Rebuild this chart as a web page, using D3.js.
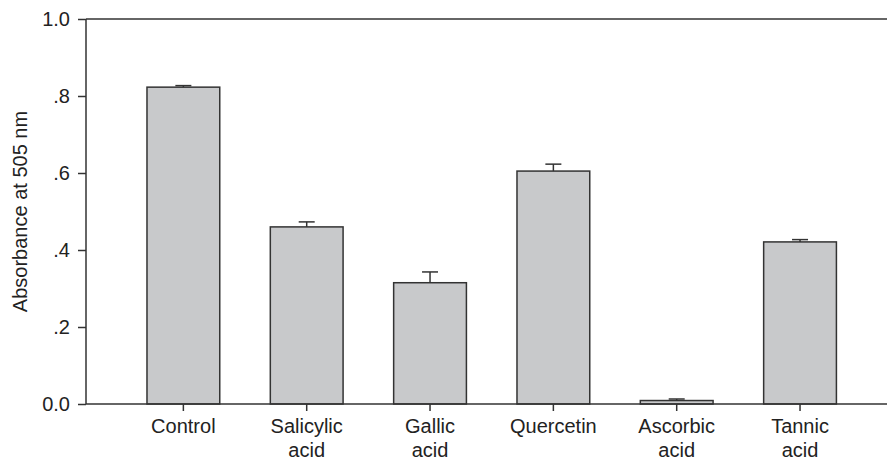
<!DOCTYPE html>
<html>
<head>
<meta charset="utf-8">
<script src="https://cdn.jsdelivr.net/npm/d3@7"></script>
<style>
  html, body { margin: 0; padding: 0; background: #fff; }
  svg { display: block; font-family: "Liberation Sans", Arial, Helvetica, sans-serif; }
</style>
</head>
<body>
<svg id="chart" width="887" height="461"></svg>
<script>
// Absorbance at 505 nm for each treatment, with upper standard error
const categories = [["Control"], ["Salicylic", "acid"], ["Gallic", "acid"], ["Quercetin"], ["Ascorbic", "acid"], ["Tannic", "acid"]];
const values = [0.823, 0.460, 0.315, 0.605, 0.009, 0.421];
const errors = [0.004, 0.013, 0.028, 0.018, 0.004, 0.006];
const yTicks = [0, 0.2, 0.4, 0.6, 0.8, 1.0];
const yTickLabels = ["0.0", ".2", ".4", ".6", ".8", "1.0"];

const svg = d3.select("#chart");
const ink = "#333";
const plotLeft = 86, plotRight = 887, plotTop = 19, plotBottom = 404;

const keys = categories.map(c => c.join(" "));
const x = d3.scaleBand().domain(keys).range([121.7, 861.7])
  .paddingInner(0.41).paddingOuter(0.205);
const y = d3.scaleLinear().domain([0, 1]).range([plotBottom, plotTop]);

// bars
svg.append("g").selectAll("rect").data(values).join("rect")
  .attr("x", (d, i) => x(keys[i]))
  .attr("y", d => y(d))
  .attr("width", x.bandwidth())
  .attr("height", d => y(0) - y(d))
  .attr("fill", "#c8c9cb")
  .attr("stroke", ink)
  .attr("stroke-width", 1.5);

// upper error bars
const eb = svg.append("g").attr("stroke", ink).attr("stroke-width", 1.5);
values.forEach((v, i) => {
  const cx = x(keys[i]) + x.bandwidth() / 2;
  eb.append("line").attr("x1", cx).attr("x2", cx).attr("y1", y(v)).attr("y2", y(v + errors[i]));
  eb.append("line").attr("x1", cx - 8).attr("x2", cx + 8).attr("y1", y(v + errors[i])).attr("y2", y(v + errors[i]));
});

// top frame line
svg.append("line").attr("x1", plotLeft).attr("x2", plotRight).attr("y1", plotTop).attr("y2", plotTop)
  .attr("stroke", ink).attr("stroke-width", 1.5);

// y axis
const yAxis = svg.append("g").attr("transform", `translate(${plotLeft},0)`)
  .call(d3.axisLeft(y).tickValues(yTicks).tickSize(8).tickPadding(8)
    .tickFormat((d, i) => yTickLabels[i]));
yAxis.select(".domain").attr("stroke", ink).attr("stroke-width", 1.5).attr("d", `M0,${plotTop}V${plotBottom}`);
yAxis.selectAll(".tick line").attr("stroke", ink).attr("stroke-width", 1.5);
yAxis.selectAll(".tick text").attr("font-size", 20).attr("fill", "#222")
  .attr("font-family", "'Liberation Sans', Arial, sans-serif");

// x axis
const xAxis = svg.append("g").attr("transform", `translate(0,${plotBottom})`)
  .call(d3.axisBottom(x).tickSize(7).tickFormat(""));
xAxis.select(".domain").attr("stroke", ink).attr("stroke-width", 1.5).attr("d", `M${plotLeft},0H${plotRight}`);
xAxis.selectAll(".tick line").attr("stroke", ink).attr("stroke-width", 1.5);

// category labels, one or two lines each
const lbl = svg.append("g").attr("font-size", 20).attr("fill", "#222").attr("text-anchor", "middle");
categories.forEach((lines, i) => {
  const cx = x(keys[i]) + x.bandwidth() / 2;
  const t = lbl.append("text").attr("x", cx).attr("y", 433);
  lines.forEach((s, j) => t.append("tspan").attr("x", cx).attr("dy", j ? 24 : 0).text(s));
});

// y axis title
svg.append("text")
  .attr("transform", `translate(27,${(plotTop + plotBottom) / 2}) rotate(-90)`)
  .attr("text-anchor", "middle")
  .attr("font-size", 20).attr("fill", "#222")
  .text("Absorbance at 505 nm");
</script>
</body>
</html>
